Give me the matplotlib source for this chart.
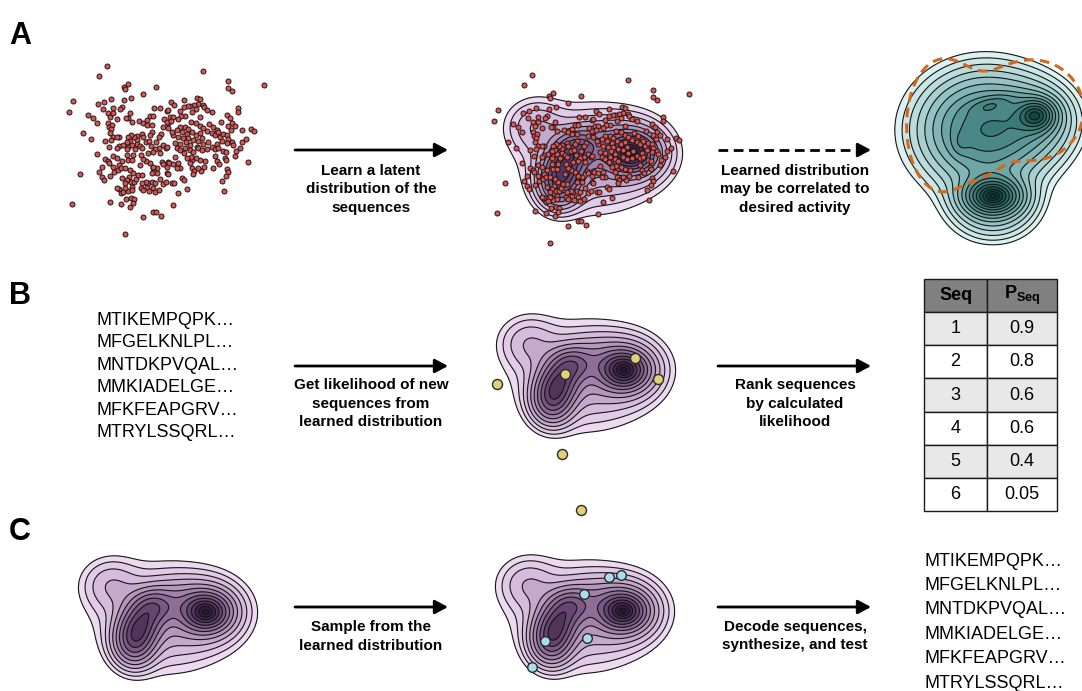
import numpy as np
import matplotlib.pyplot as plt
from matplotlib.colors import LinearSegmentedColormap

plt.rcParams['font.family'] = ['Liberation Sans', 'DejaVu Sans']
plt.rcParams['mathtext.fontset'] = 'custom'
plt.rcParams['mathtext.rm'] = 'Liberation Sans'
plt.rcParams['mathtext.bf'] = 'Liberation Sans:bold'

# latent embeddings of the training sequences (x, y; y grows downward)
latent_pts = [
    (140,33),(118,63),(193,97),(205,86),(195,103),(287,95),(248,116),(212,128),(193,135),(152,131),
    (132,140),(113,148),(39,139),(26,171),(160,160),(128,162),(187,155),(181,162),(210,175),(205,188),
    (197,188),(143,175),(150,185),(158,175),(84,181),(98,188),(110,204),(172,192),(143,205),(148,215),
    (157,210),(153,222),(150,235),(160,245),(69,233),(93,251),(215,200),(238,198),(250,205),(262,196),
    (262,211),(275,210),(270,183),(278,183),(283,160),(300,160),(322,167),(313,193),(325,205),(308,215),
    (302,237),(298,245),(275,230),(270,240),(245,237),(250,247),(232,243),(230,255),(223,245),(213,241),
    (205,245),(210,258),(200,262),(178,247),(170,247),(152,255),(135,258),(148,275),(176,272),(188,270),
    (205,275),(215,270),(230,268),(240,272),(258,262),(268,258),(273,272),(288,262),(310,270),(318,280),
    (298,280),(285,282),(245,280),(225,282),(200,283),(170,280),
    (428,48),(505,79),(503,100),(516,109),(612,90),(332,140),(343,150),(372,134),(411,128),(421,131),
    (415,148),(403,150),(391,152),(383,153),(371,155),(428,150),(433,157),(440,165),(455,170),(409,162),
    (323,165),(360,168),(395,172),(375,182),(363,182),(355,192),(330,186),(340,186),(320,200),(333,198),
    (535,158),(535,172),(502,180),(510,190),(483,202),(515,205),(525,212),(503,213),(512,225),(547,225),
    (572,223),(583,228),(420,187),(393,200),(408,205),(420,213),(430,220),(448,207),(460,215),(470,225),
    (442,228),(455,233),(465,240),(473,232),(480,245),(490,238),(500,240),(505,252),(515,262),(520,270),
    (540,280),(547,262),(557,252),(375,215),(385,222),(360,215),(350,225),(365,232),(380,238),(395,232),
    (407,240),(420,235),(427,248),(415,258),(400,255),(385,250),(370,250),(355,245),(340,240),(335,230),
    (325,218),(345,265),(360,268),(377,262),(390,270),(410,275),(430,268),(445,260),(455,275),(470,268),
    (485,258),(500,265),(440,282),(465,282),
    (110,297),(135,312),(145,318),(160,303),(170,308),(185,318),(178,330),(160,335),(148,325),(125,335),
    (118,350),(125,365),(132,375),(150,362),(163,350),(175,345),(183,338),(195,338),(205,315),(215,315),
    (218,300),(200,300),(210,345),(218,355),(208,365),(200,375),(195,385),(213,382),(222,380),(228,372),
    (215,395),(205,408),(195,398),(185,370),(178,402),(170,400),(182,415),(190,410),(215,405),(242,400),
    (250,405),(260,395),(265,385),(258,382),(245,385),(275,382),(285,385),(280,398),(268,408),(285,412),
    (298,405),(310,388),(318,382),(300,372),(292,355),(290,340),(280,340),(275,355),(278,335),(270,325),
    (258,318),(250,312),(243,300),(265,295),(278,290),(300,295),(305,320),(310,328),(320,335),(322,355),
    (325,320),(60,358),(35,448),(150,440),(183,447),(198,432),(213,430),(222,432),(210,455),(218,445),
    (250,485),(278,472),(288,472),(302,482),(195,538),(240,330),(235,360),(245,360),
    (320,275),(350,280),(360,285),(375,278),(390,285),(400,292),(415,278),(425,285),(473,278),(490,288),
    (498,292),(527,288),(525,303),(495,308),(497,315),(465,302),(470,318),(477,328),(458,338),(435,318),
    (433,335),(420,315),(407,310),(395,315),(393,305),(380,310),(373,295),(345,305),(327,325),(340,328),
    (355,325),(360,340),(350,338),(395,338),(403,348),(400,358),(423,348),(413,338),(390,325),(563,322),
    (500,342),(505,350),(498,363),(487,378),(493,407),(367,368),(373,375),(335,383),(343,385),(323,358),
    (380,403),(353,415),(340,450),
]

# new sequences scored against the learned density
new_pts = [(471, 231), (261, 279), (540, 294), (57, 309), (252, 519), (309, 687)]
# sequences sampled from the learned density
sampled_pts = [(396, 165), (432, 159), (321, 216), (204, 357), (330, 348), (165, 435)]

seqs = ["MTIKEMPQPK…", "MFGELKNLPL…", "MNTDKPVQAL…",
        "MMKIADELGE…", "MFKFEAPGRV…", "MTRYLSSQRL…"]
seq_rank = [1, 2, 3, 4, 5, 6]
seq_prob = [0.9, 0.8, 0.6, 0.6, 0.4, 0.05]

# learned latent density as gaussian bumps: (x, y, sx, sy, rho, amp)
latent_bumps = [
    (439, 267, 42, 33, 0.0, 0.75),
    (445, 265, 65, 55, 0.0, 0.30),
    (222, 356, 38, 44, 0.0, 0.60),
    (245, 300, 38, 38, 0.0, 0.45),
    (280, 250, 40, 32, 0.0, 0.40),
    (350, 225, 60, 38, 0.0, 0.10),
    (320, 285, 115, 90, 0.0, 0.20),
    (150, 185, 55, 50, 0.0, 0.12),
]
# density of the learned space coloured by activity
act_bumps = [
    (105, 90, 38, 33, 0.0, 0.60),
    (157, 75, 12, 10, 0.0, 0.55),
    (113, 156, 17, 11, 0.0, 0.75),
    (113, 165, 25, 20, 0.0, 0.25),
    (112, 64, 14, 6, -0.5, 0.15),
    (80, 104, 6, 8, 0.0, 0.08),
    (155, 80, 25, 22, 0.0, 0.20),
]
# region linked to the desired activity
target_bumps = [
    (62, 86, 26, 48, 0.0, 1.0),
    (152, 70, 38, 37, 0.0, 1.0),
    (100, 120, 18, 15, 0.0, 0.3),
]
target_level = 0.4

W, H = 1082, 691
fig = plt.figure(figsize=(W / 100, H / 100), dpi=100)

purple = LinearSegmentedColormap.from_list(
    'lav', ['#eddaf0', '#d6bcdc', '#b597bd', '#8f6d99', '#654571', '#40244a', '#2c1533'])
teal = LinearSegmentedColormap.from_list(
    'teal', ['#ddf1f1', '#b5d8d8', '#88baba', '#5a9796', '#357573', '#124a47', '#033633'])


def px_axes(x, y, w, h):
    ax = fig.add_axes([x / W, 1 - (y + h) / H, w / W, h / H])
    ax.set_axis_off()
    return ax


def latent_axes(x0, y0):
    # one latent unit = 1/3 pixel
    ax = px_axes(x0 - 20, y0 - 20, 260, 230)
    ax.set_xlim(-60, 720)
    ax.set_ylim(630, -60)
    return ax


def bumps(X, Y, params):
    Z = np.zeros_like(X)
    for mx, my, sx, sy, rho, amp in params:
        dx = (X - mx) / sx
        dy = (Y - my) / sy
        q = (dx * dx - 2 * rho * dx * dy + dy * dy) / (1 - rho ** 2)
        Z += amp * np.exp(-0.5 * q)
    return Z


def ring_levels(Z, n, dmax):
    # contour levels evenly spaced in gaussian "radius" below the peak
    d = np.linspace(dmax, 0, n)
    return Z.max() * np.exp(-0.5 * d ** 2)


def draw_density(ax, X, Y, Z, levels, cmap):
    cols = cmap(np.linspace(0, 1, len(levels) - 1))
    ax.contourf(X, Y, Z, levels=levels, colors=cols)
    ax.contour(X, Y, Z, levels=levels[:-1], colors='#161616', linewidths=0.8)


pts = np.array(latent_pts, dtype=float)
gx, gy = np.meshgrid(np.linspace(-60, 720, 300), np.linspace(-60, 630, 270))
Z = bumps(gx, gy, latent_bumps)
lv = ring_levels(Z, 14, 2.65)

red = dict(s=13, c='#e05252', edgecolors='#1a1a1a', linewidths=0.7)

# A: raw embeddings, fitted density, activity landscape
ax = latent_axes(60, 55)
ax.scatter(pts[:, 0], pts[:, 1], **red)

ax = latent_axes(485, 64)
draw_density(ax, gx, gy, Z, lv, purple)
ax.scatter(pts[:, 0], pts[:, 1], zorder=3, **red)

ax = px_axes(880, 40, 202, 220)
ax.set_xlim(0, 202)
ax.set_ylim(220, 0)
tx, ty = np.meshgrid(np.linspace(0, 202, 240), np.linspace(0, 220, 260))
TZ = bumps(tx, ty, act_bumps)
draw_density(ax, tx, ty, TZ, ring_levels(TZ, 16, 2.6), teal)
plt.rcParams['lines.dashed_pattern'] = [3.2, 2.0]
ax.contour(tx, ty, bumps(tx, ty, target_bumps), levels=[target_level],
           colors='#d2691e', linewidths=2.2, linestyles='--')

# B: likelihood of new sequences
ax = latent_axes(478, 281)
draw_density(ax, gx, gy, Z, lv, purple)
nb = np.array(new_pts, dtype=float)
ax.scatter(nb[:, 0], nb[:, 1], s=52, c='#e2cf78', edgecolors='#2a2a2a',
           linewidths=1.0, zorder=3, clip_on=False)

# C: sampling from the density
ax = latent_axes(60, 523)
draw_density(ax, gx, gy, Z, lv, purple)

ax = latent_axes(477, 522)
draw_density(ax, gx, gy, Z, lv, purple)
sp = np.array(sampled_pts, dtype=float)
ax.scatter(sp[:, 0], sp[:, 1], s=48, c='#a9dcef', edgecolors='#2a2a2a',
           linewidths=1.0, zorder=3, clip_on=False)

# ranking table
tab = px_axes(924, 279, 133, 232)
cells = [[str(r), f'{p:g}'] for r, p in zip(seq_rank, seq_prob)]
tbl = tab.table(cellText=cells, colLabels=['Seq', r'$\mathbf{P}_{\mathbf{Seq}}$'],
                cellLoc='center', bbox=[0, 0, 1, 1])
tbl.auto_set_font_size(False)
for (r, c), cell in tbl.get_celld().items():
    cell.set_width(0.474 if c == 0 else 0.526)
    cell.set_linewidth(1.0)
    cell.set_edgecolor('#1a1a1a')
    cell.get_text().set_fontsize(13)
    if r == 0:
        cell.set_facecolor('#808080')
        cell.get_text().set_fontweight('bold')
    elif r % 2 == 1:
        cell.set_facecolor('#e8e8e8')
    else:
        cell.set_facecolor('white')

# arrows, captions and text
ov = fig.add_axes([0, 0, 1, 1])
ov.set_xlim(0, W)
ov.set_ylim(H, 0)
ov.set_axis_off()

arrow = dict(arrowstyle='-|>,head_length=0.6,head_width=0.32', lw=2.0, color='black',
             shrinkA=0, shrinkB=0, mutation_scale=13)


def caption(x, y0, lines):
    for i, t in enumerate(lines):
        ov.text(x, y0 + i * 18.5, t, ha='center', va='baseline', fontsize=11, fontweight='bold')


for y in (150, 366, 607):
    ov.annotate('', xy=(448, y), xytext=(295, y), arrowprops=arrow)
for y in (366, 607):
    ov.annotate('', xy=(871, y), xytext=(718, y), arrowprops=arrow)
ov.plot([718, 862], [150, 150], color='black', lw=2.0, ls=(0, (3.5, 2.0)))
ov.annotate('', xy=(871, 150), xytext=(858, 150), arrowprops=arrow)

caption(371, 174.5, ['Learn a latent', 'distribution of the', 'sequences'])
caption(795, 174.5, ['Learned distribution', 'may be correlated to', 'desired activity'])
caption(371, 389, ['Get likelihood of new', 'sequences from', 'learned distribution'])
caption(795, 389, ['Rank sequences', 'by calculated', 'likelihood'])
caption(371, 631, ['Sample from the', 'learned distribution'])
caption(795, 631, ['Decode sequences,', 'synthesize, and test'])

for i, s in enumerate(seqs):
    ov.text(97, 324.5 + i * 22.5, s, ha='left', va='baseline', fontsize=13)
    ov.text(924, 565.5 + i * 24.4, s, ha='left', va='baseline', fontsize=13)

for lab, y in (('A', 44), ('B', 304), ('C', 540)):
    ov.text(9, y, lab, ha='left', va='baseline', fontsize=22, fontweight='bold')

fig.savefig('out.png', dpi=100)
